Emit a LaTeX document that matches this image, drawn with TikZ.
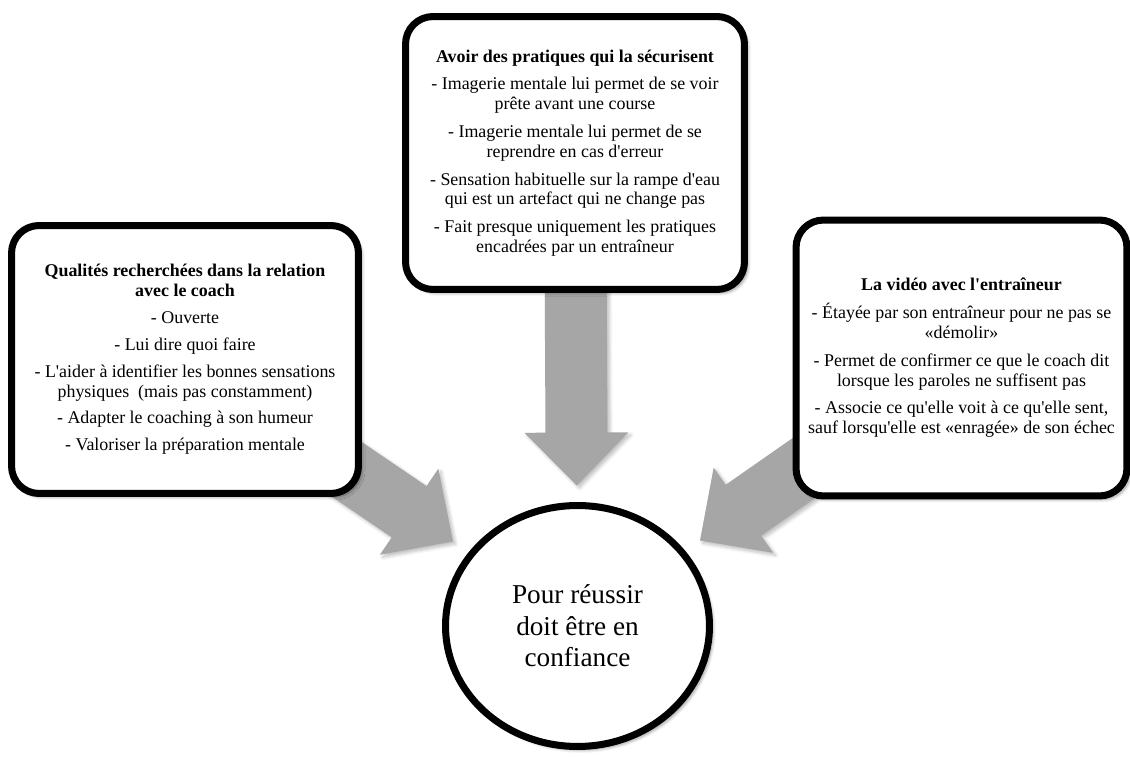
\documentclass[tikz,border=0pt]{standalone}
\usepackage{fontspec}
\setmainfont{Liberation Serif}
\usetikzlibrary{positioning,calc,shapes.geometric,shadows.blur,backgrounds}
\definecolor{arrowgray}{RGB}{166,166,166}

\begin{document}
\begin{tikzpicture}[x=0.02cm, y=-0.02cm,
    box/.style={draw, line width=4pt, rounded corners=0.55cm, fill=white, align=center,
      font=\rmfamily\fontsize{10.2}{11.3}\selectfont,
      blur shadow={shadow xshift=2pt, shadow yshift=-2pt, shadow blur steps=6}},
    bigarrow/.style={fill=arrowgray,
      blur shadow={shadow xshift=1.5pt, shadow yshift=-1.5pt, shadow opacity=25, shadow blur steps=5}}]
  \useasboundingbox (0,0) rectangle (1130,757);

  % the three boxes
  \node[box, minimum width=6.78cm, minimum height=5.46cm] (pratiques) at (575,153)
    {\textbf{Avoir des pratiques qui la sécurisent}\\[4.5pt]
     - Imagerie mentale lui permet de se voir\\ prête avant une course\\[4.5pt]
     - Imagerie mentale lui permet de se\\ reprendre en cas d\textquotesingle erreur\\[4.5pt]
     - Sensation habituelle sur la rampe d\textquotesingle eau\\ qui est un artefact qui ne change pas\\[4.5pt]
     - Fait presque uniquement les pratiques\\ encadrées par un entraîneur};
  \node[box, minimum width=6.94cm, minimum height=5.36cm] (qualites) at (185,359.5)
    {\textbf{Qualités recherchées dans la relation}\\ \textbf{avec le coach}\\[4pt]
     - Ouverte\\[4pt]
     - Lui dire quoi faire\\[4pt]
     - L\textquotesingle aider à identifier les bonnes sensations\\ physiques\ \ (mais pas constamment)\\[4pt]
     - Adapter le coaching à son humeur\\[4pt]
     - Valoriser la préparation mentale};
  \node[box, minimum width=6.62cm, minimum height=5.52cm] (video) at (961.5,358)
    {\textbf{La vidéo avec l\textquotesingle entraîneur}\\[4.5pt]
     - Étayée par son entraîneur pour ne pas se\\ «démolir»\\[4.5pt]
     - Permet de confirmer ce que le coach dit\\ lorsque les paroles ne suffisent pas\\[4.5pt]
     - Associe ce qu\textquotesingle elle voit à ce qu\textquotesingle elle sent,\\ sauf lorsqu\textquotesingle elle est «enragée» de son échec};

  % centre
  \node[draw, ellipse, line width=4pt, fill=white, minimum width=5.28cm, minimum height=4.82cm,
    align=center, font=\rmfamily\fontsize{15.5}{18}\selectfont,
    blur shadow={shadow xshift=2pt, shadow yshift=-2pt, shadow blur steps=6}]
    (confiance) at (577.5,626) {Pour réussir\\ doit être en\\ confiance};

  % arrows behind
  \begin{scope}[on background layer]
    \foreach \src/\gap in {pratiques/0.33cm, qualites/0.38cm, video/0.36cm}{
      \path (\src.center) -- (confiance) coordinate[pos=1] (b-\src);
      \coordinate (t-\src) at ($(b-\src)!\gap!(\src.center)$);
      \coordinate (h-\src) at ($(t-\src)!1.06cm!(\src.center)$);
      \path[bigarrow] ($(\src.center)!0.62cm!90:(t-\src)$) -- ($(h-\src)!0.62cm!90:(t-\src)$)
        -- ($(h-\src)!1.04cm!90:(t-\src)$) -- (t-\src) -- ($(h-\src)!1.04cm!-90:(t-\src)$)
        -- ($(h-\src)!0.62cm!-90:(t-\src)$) -- ($(\src.center)!0.62cm!-90:(t-\src)$) -- cycle;
    }
  \end{scope}
\end{tikzpicture}
\end{document}
